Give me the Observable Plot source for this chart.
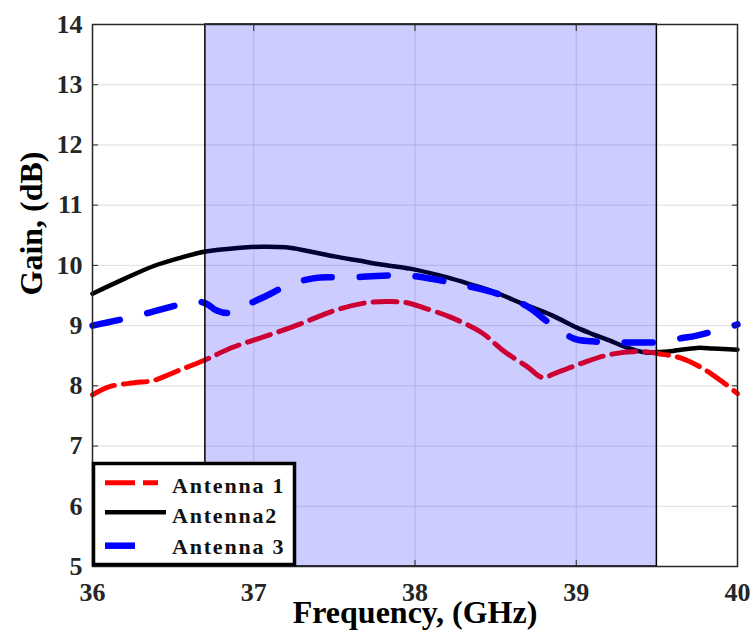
<!DOCTYPE html>
<html>
<head>
<meta charset="utf-8">
<script src="https://cdn.jsdelivr.net/npm/d3@7"></script>
<script src="https://cdn.jsdelivr.net/npm/@observablehq/plot@0.6"></script>
<style>
  body { margin: 0; background: #fff; }
  svg { overflow: visible; }
</style>
</head>
<body>
<div id="chart"></div>
<script>
// ---- data ----
const seriesNames = ["Antenna 1", "Antenna2", "Antenna 3"];
const seriesColors = ["#ff0000", "#000000", "#0000ff"];

const freq1 = [36.0, 36.11, 36.26, 36.38, 36.53, 36.69, 36.87, 37.08, 37.29, 37.5, 37.7, 37.85, 37.95, 38.05, 38.22, 38.41, 38.55, 38.7, 38.79, 38.88, 39.05, 39.21, 39.38, 39.52, 39.65, 39.79, 39.91, 40.0];
const gain1 = [7.85, 7.99, 8.05, 8.09, 8.25, 8.42, 8.64, 8.83, 9.03, 9.25, 9.38, 9.40, 9.38, 9.30, 9.14, 8.89, 8.58, 8.31, 8.14, 8.22, 8.39, 8.52, 8.57, 8.53, 8.46, 8.28, 8.06, 7.87];

const freq2 = [36.0, 36.2, 36.38, 36.55, 36.7, 36.9, 37.05, 37.2, 37.35, 37.5, 37.65, 37.8, 38.0, 38.2, 38.35, 38.5, 38.67, 38.85, 39.0, 39.1, 39.21, 39.3, 39.38, 39.44, 39.5, 39.6, 39.75, 39.85, 40.0];
const gain2 = [9.53, 9.78, 9.99, 10.13, 10.23, 10.29, 10.31, 10.30, 10.23, 10.15, 10.08, 10.01, 9.93, 9.80, 9.68, 9.55, 9.36, 9.17, 8.97, 8.86, 8.75, 8.65, 8.58, 8.55, 8.56, 8.58, 8.63, 8.62, 8.60];

const freq3 = [36.0, 36.16, 36.36, 36.54, 36.65, 36.71, 36.77, 36.84, 36.89, 36.96, 37.06, 37.22, 37.32, 37.41, 37.6, 37.8, 37.97, 38.16, 38.32, 38.51, 38.69, 38.84, 38.99, 39.1, 39.2, 39.37, 39.55, 39.65, 39.74, 39.94, 40.0];
const gain3 = [9.0, 9.09, 9.22, 9.35, 9.40, 9.36, 9.25, 9.21, 9.26, 9.35, 9.47, 9.68, 9.76, 9.80, 9.80, 9.83, 9.83, 9.75, 9.66, 9.53, 9.33, 9.03, 8.78, 8.74, 8.72, 8.72, 8.73, 8.79, 8.83, 8.97, 9.02];

const bandStart = 36.7;
const bandEnd = 39.5;

const xTicks = [36, 37, 38, 39, 40];
const yTicks = [5, 6, 7, 8, 9, 10, 11, 12, 13, 14];
const xLabel = "Frequency, (GHz)";
const yLabel = "Gain, (dB)";

// ---- build tables ----
const zip = (f, g) => f.map((x, i) => ({x, y: g[i]}));
const s1 = zip(freq1, gain1);
const s2 = zip(freq2, gain2);
const s3 = zip(freq3, gain3);
const band = [{x1: bandStart, x2: bandEnd, y1: yTicks[0], y2: yTicks[yTicks.length - 1]}];

const font = "'Liberation Serif', 'Times New Roman', serif";
const axisColor = "#262626";
const fmt = d => String(d);

const chart = Plot.plot({
  width: 753,
  height: 632,
  marginLeft: 92,
  marginRight: 16,
  marginTop: 24,
  marginBottom: 66,
  style: {fontFamily: font, fontWeight: "bold", background: "#fff", color: "#262626"},
  x: {domain: [36, 40], ticks: xTicks, label: null},
  y: {domain: [5, 14], ticks: yTicks, label: null},
  marks: [
    Plot.gridX(xTicks, {stroke: "#dedede", strokeOpacity: 1, strokeWidth: 1}),
    Plot.gridY(yTicks, {stroke: "#dedede", strokeOpacity: 1, strokeWidth: 1}),
    Plot.line(s2, {x: "x", y: "y", stroke: seriesColors[1], strokeWidth: 4.5, curve: "catmull-rom"}),
    Plot.line(s3, {x: "x", y: "y", stroke: seriesColors[2], strokeWidth: 6.5, strokeDasharray: "28,28", curve: "catmull-rom"}),
    Plot.line(s1, {x: "x", y: "y", stroke: seriesColors[0], strokeWidth: 5, strokeDasharray: "24,9", curve: "catmull-rom"}),
    Plot.rect(band, {x1: "x1", x2: "x2", y1: "y1", y2: "y2", fill: "#0000ff", fillOpacity: 0.2, stroke: "#000", strokeWidth: 1.5}),
    Plot.frame({stroke: axisColor, strokeWidth: 1.5}),
    // tick labels
    Plot.axisX(xTicks, {anchor: "bottom", tickSize: 0, tickPadding: 16, fontSize: 26, tickFormat: fmt, fill: "#262626", label: null}),
    Plot.axisY(yTicks, {anchor: "left", tickSize: 0, tickPadding: 10, fontSize: 26, tickFormat: fmt, fill: "#262626", label: null}),
    // inward ticks
    Plot.axisX(xTicks, {anchor: "bottom", tickSize: -6, tickFormat: () => "", stroke: axisColor, label: null}),
    Plot.axisX(xTicks, {anchor: "top", tickSize: -6, tickFormat: () => "", stroke: axisColor, label: null}),
    Plot.axisY(yTicks, {anchor: "left", tickSize: -6, tickFormat: () => "", stroke: axisColor, label: null}),
    Plot.axisY(yTicks, {anchor: "right", tickSize: -6, tickFormat: () => "", stroke: axisColor, label: null}),
    // axis titles
    Plot.text([xLabel], {frameAnchor: "bottom", lineAnchor: "bottom", dy: 56, fontSize: 32, fontWeight: "bold", fill: "#000"}),
    Plot.text([yLabel], {frameAnchor: "left", lineAnchor: "bottom", rotate: -90, dx: -51, fontSize: 32, fontWeight: "bold", fill: "#000"})
  ]
});

document.getElementById("chart").appendChild(chart);

// ---- legend (overlay in same svg) ----
const svg = d3.select(chart);
const lg = svg.append("g").attr("class", "legend").attr("text-anchor", "start");
lg.append("rect")
  .attr("x", 93.5).attr("y", 463.5).attr("width", 201).attr("height", 101)
  .attr("fill", "#fff").attr("stroke", "#000").attr("stroke-width", 3.5);
const rows = [
  {name: seriesNames[0], color: seriesColors[0], dash: "30,8", width: 5, ly: 482.7, ty: 492.7, x2: 158},
  {name: seriesNames[1], color: seriesColors[1], dash: null, width: 4.5, ly: 512.3, ty: 523, x2: 166},
  {name: seriesNames[2], color: seriesColors[2], dash: "30,40", width: 6.5, ly: 545.7, ty: 554, x2: 158}
];
rows.forEach(r => {
  const l = lg.append("line")
    .attr("x1", 105).attr("x2", r.x2).attr("y1", r.ly).attr("y2", r.ly)
    .attr("stroke", r.color).attr("stroke-width", r.width);
  if (r.dash) l.attr("stroke-dasharray", r.dash);
  lg.append("text")
    .attr("x", 172).attr("y", r.ty)
    .attr("text-anchor", "start")
    .style("font-family", font).style("font-weight", "bold").style("font-size", "22px")
    .style("letter-spacing", "1.8px")
    .attr("fill", "#111")
    .text(r.name);
});
</script>
</body>
</html>
